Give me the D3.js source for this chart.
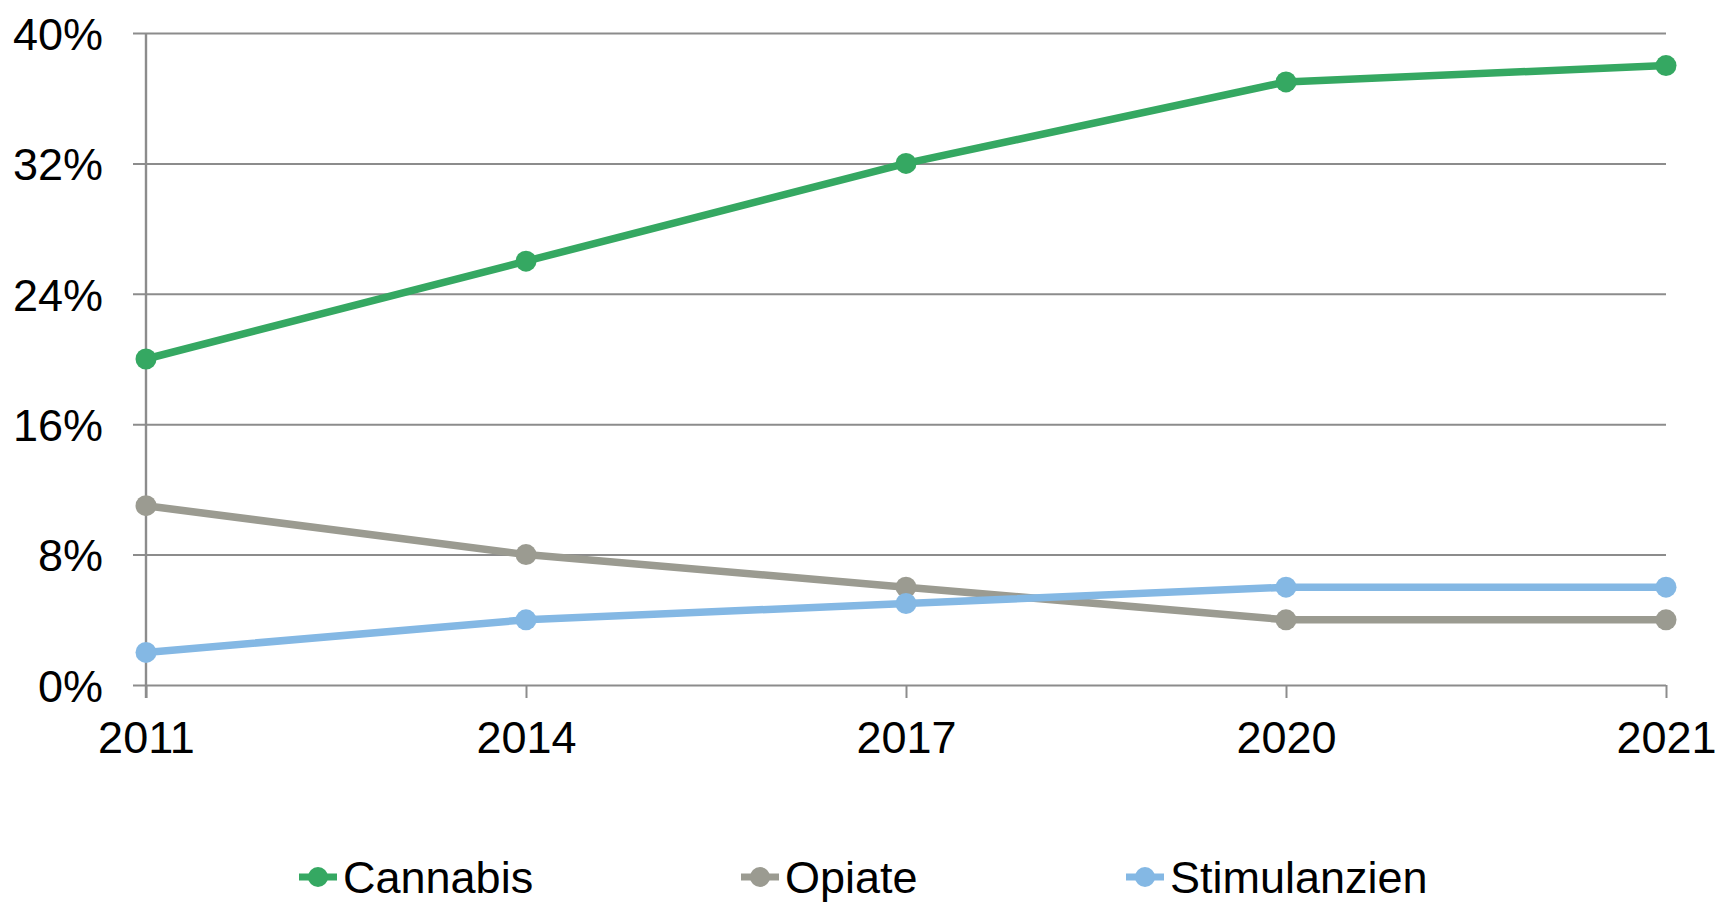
<!DOCTYPE html>
<html>
<head>
<meta charset="utf-8">
<script src="https://cdn.jsdelivr.net/npm/d3@7/dist/d3.min.js"></script>
<style>
  html, body { margin: 0; padding: 0; background: #ffffff; }
  svg { display: block; font-family: "Liberation Sans", Arial, sans-serif; }
</style>
</head>
<body>
<svg id="chart" width="1718" height="902"></svg>
<script>
// Share of cases by substance, per survey year
const years = ["2011", "2014", "2017", "2020", "2021"];
const cannabis = [20, 26, 32, 37, 38];
const opiate = [11, 8, 6, 4, 4];
const stimulanzien = [2, 4, 5, 6, 6];
const yTicks = [0, 8, 16, 24, 32, 40];

const series = [
  { name: "Cannabis", values: cannabis, color: "#35a862" },
  { name: "Opiate", values: opiate, color: "#9b9b91" },
  { name: "Stimulanzien", values: stimulanzien, color: "#84b8e4" }
];

const W = 1718, H = 902;
const margin = { left: 146, right: 52, top: 33, bottom: 217 };
const innerW = W - margin.left - margin.right;
const innerH = H - margin.top - margin.bottom;
const tickLen = 13;
const fontSize = 45;

const svg = d3.select("#chart");
const g = svg.append("g").attr("transform", `translate(${margin.left},${margin.top})`);

const x = d3.scalePoint().domain(years).range([0, innerW]);
const y = d3.scaleLinear().domain([0, 40]).range([innerH, 0]);

// Horizontal gridlines with outer tick stubs, plus percentage labels
const yAxis = g.append("g")
  .call(d3.axisLeft(y).tickValues(yTicks).tickSize(0).tickPadding(0)
    .tickFormat(d => d + "%"));
yAxis.select(".domain").remove();
yAxis.selectAll(".tick line")
  .attr("x1", -tickLen).attr("x2", innerW)
  .attr("stroke", "#8c8c8c").attr("stroke-width", 2);
yAxis.selectAll(".tick text")
  .attr("x", -43).attr("dy", "0.36em")
  .attr("fill", "#000").style("font-size", fontSize + "px");

// Year axis at the bottom
const xAxis = g.append("g").attr("transform", `translate(0,${innerH})`)
  .call(d3.axisBottom(x).tickSize(tickLen).tickPadding(0));
xAxis.select(".domain").remove();
xAxis.selectAll(".tick line").attr("stroke", "#8c8c8c").attr("stroke-width", 2);
xAxis.selectAll(".tick text")
  .attr("y", 68).attr("dy", 0)
  .attr("fill", "#000").style("font-size", fontSize + "px");

// Vertical axis line
g.append("line")
  .attr("x1", 0).attr("x2", 0).attr("y1", 0).attr("y2", innerH + tickLen)
  .attr("stroke", "#8c8c8c").attr("stroke-width", 2.4);

// Series lines and markers
const line = d3.line().x((d, i) => x(years[i])).y(d => y(d));
series.forEach(s => {
  g.append("path")
    .datum(s.values)
    .attr("d", line)
    .attr("fill", "none")
    .attr("stroke", s.color)
    .attr("stroke-width", 7.5)
    .attr("stroke-linejoin", "round");
  g.selectAll(null)
    .data(s.values)
    .enter().append("circle")
    .attr("cx", (d, i) => x(years[i]))
    .attr("cy", d => y(d))
    .attr("r", 10.5)
    .attr("fill", s.color);
});

// Legend
const legendY = 877;
const legendX = [318, 760, 1145];
const legend = svg.append("g");
series.forEach((s, i) => {
  const lg = legend.append("g").attr("transform", `translate(${legendX[i]},${legendY})`);
  lg.append("line").attr("x1", -19).attr("x2", 19).attr("y1", 0).attr("y2", 0)
    .attr("stroke", s.color).attr("stroke-width", 7);
  lg.append("circle").attr("r", 10).attr("fill", s.color);
  lg.append("text").attr("x", 25).attr("y", 16)
    .attr("fill", "#000").style("font-size", fontSize + "px")
    .text(s.name);
});
</script>
</body>
</html>
